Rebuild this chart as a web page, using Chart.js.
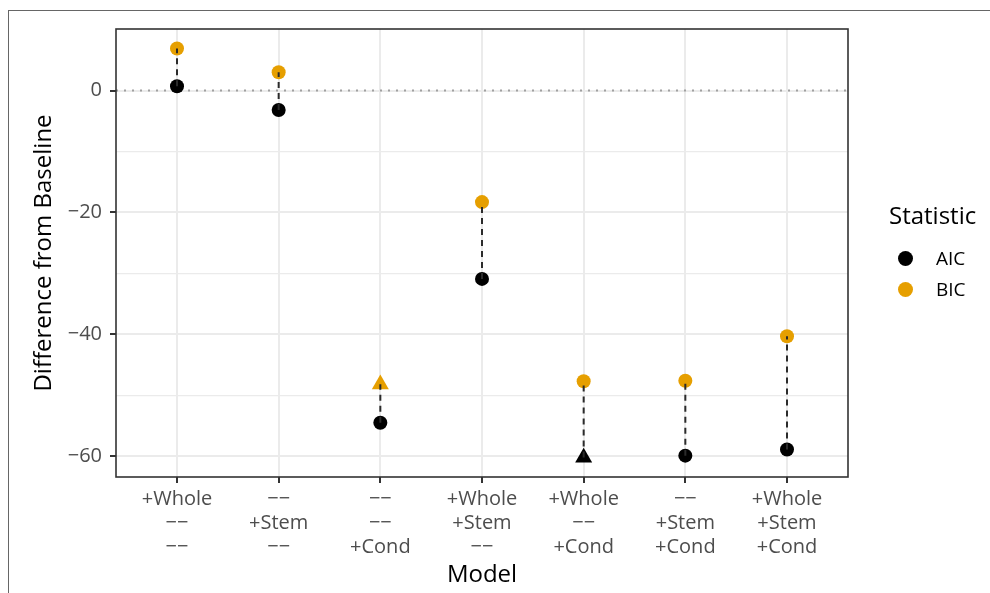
<!DOCTYPE html>
<html>
<head>
<meta charset="utf-8">
<script src="https://cdn.jsdelivr.net/npm/chart.js@4"></script>
<style>
  body { margin: 0; background: #fff; font-family: "Open Sans", sans-serif; }
  #wrap { position: relative; width: 990px; height: 593px; overflow: hidden; }
  #frame { position: absolute; left: 8px; top: 10px; width: 990px; height: 600px;
           border-top: 1.5px solid #666; border-left: 1.5px solid #666; pointer-events: none; }
  .legend-title { position: absolute; left: 889px; top: 201px; font-size: 24px; line-height: 28px; color: #000; }
  .legend-row { position: absolute; left: 898px; height: 20px; display: flex; align-items: center;
                font-size: 19px; line-height: 20px; color: #000; }
  .legend-row span.dot { display: inline-block; width: 15px; height: 15px; border-radius: 50%; margin-right: 23px; }
</style>
</head>
<body>
<div id="wrap">
  <div id="frame"></div>
  <canvas id="chart" width="990" height="593"></canvas>
  <div class="legend-title">Statistic</div>
  <div class="legend-row" style="top:248px"><span class="dot" style="background:#000"></span>AIC</div>
  <div class="legend-row" style="top:279px"><span class="dot" style="background:#E69F00"></span>BIC</div>
</div>
<script>
// model labels, one line per term
const models = [
  ['+Whole', '−−', '−−'],
  ['−−', '+Stem', '−−'],
  ['−−', '−−', '+Cond'],
  ['+Whole', '+Stem', '−−'],
  ['+Whole', '−−', '+Cond'],
  ['−−', '+Stem', '+Cond'],
  ['+Whole', '+Stem', '+Cond']
];

// difference from baseline
const aic = [0.7, -3.2, -54.5, -30.9, -60.2, -59.9, -58.9];
const bic = [6.9, 3.0, -48.2, -18.3, -47.7, -47.6, -40.3];

// marker shape per point
const aicShape = ['circle', 'circle', 'circle', 'circle', 'triangle', 'circle', 'circle'];
const bicShape = ['circle', 'circle', 'triangle', 'circle', 'circle', 'circle', 'circle'];

const yTicks = [-60, -50, -40, -30, -20, -10, 0];
const yLabelled = [-60, -40, -20, 0];

const FONT = '"Open Sans", sans-serif';
const radiusFor = s => (s === 'triangle' ? 9.8 : 7);
const fmt = v => (v < 0 ? '−' + Math.abs(v) : String(v));

// dashed segment from AIC to BIC for each model
const segments = models.map((_, i) => ({
  type: 'line',
  data: [{ x: i, y: aic[i] }, { x: i, y: bic[i] }],
  borderColor: '#2b2b2b',
  borderWidth: 2,
  borderDash: [6, 5],
  pointRadius: 0,
  order: 0
}));

const panel = {
  id: 'panel',
  beforeDatasetsDraw(chart) {
    const { ctx, chartArea: a, scales: { y } } = chart;
    const y0 = y.getPixelForValue(0);
    ctx.save();
    ctx.strokeStyle = '#A0A0A0';
    ctx.lineWidth = 2;
    ctx.setLineDash([2, 6]);
    ctx.beginPath();
    ctx.moveTo(a.left, y0);
    ctx.lineTo(a.right, y0);
    ctx.stroke();
    ctx.restore();
  },
  afterDraw(chart) {
    const { ctx, chartArea: a } = chart;
    ctx.save();
    ctx.strokeStyle = '#333';
    ctx.lineWidth = 1.6;
    ctx.strokeRect(a.left, a.top, a.right - a.left, a.bottom - a.top);
    ctx.restore();
  }
};

new Chart(document.getElementById('chart'), {
  type: 'scatter',
  data: {
    datasets: [
      ...segments,
      {
        label: 'AIC',
        data: aic.map((v, i) => ({ x: i, y: v })),
        backgroundColor: '#000',
        pointStyle: aicShape,
        pointRadius: aicShape.map(radiusFor),
        pointHoverRadius: aicShape.map(radiusFor),
        pointBorderWidth: 0,
        order: 1
      },
      {
        label: 'BIC',
        data: bic.map((v, i) => ({ x: i, y: v })),
        backgroundColor: '#E69F00',
        pointStyle: bicShape,
        pointRadius: bicShape.map(radiusFor),
        pointHoverRadius: bicShape.map(radiusFor),
        pointBorderWidth: 0,
        order: 2
      }
    ]
  },
  options: {
    responsive: false,
    animation: false,
    layout: { padding: { top: 29, right: 142, left: 0, bottom: 0 } },
    plugins: { legend: { display: false }, tooltip: { enabled: false } },
    scales: {
      x: {
        type: 'linear',
        min: -0.6,
        max: 6.6,
        afterBuildTicks: s => { s.ticks = models.map((_, i) => ({ value: i })); },
        afterFit: s => { s.height = 116; },
        border: { display: false },
        grid: { color: '#EBEBEB', lineWidth: 2, tickColor: '#333', tickWidth: 2, tickLength: 6 },
        ticks: {
          callback: v => models[v],
          autoSkip: false,
          maxRotation: 0,
          padding: 4,
          color: '#4D4D4D',
          font: { family: FONT, size: 20, lineHeight: 24 / 20 }
        },
        title: {
          display: true,
          text: 'Model',
          color: '#000',
          font: { family: FONT, size: 24 },
          padding: { top: 0, bottom: 3 }
        }
      },
      y: {
        min: -63.4,
        max: 10.1,
        afterBuildTicks: s => { s.ticks = yTicks.map(v => ({ value: v })); },
        afterFit: s => { s.width = 116; },
        border: { display: false },
        grid: {
          color: '#EBEBEB',
          lineWidth: c => (yLabelled.includes(c.tick.value) ? 2 : 1.2),
          tickColor: c => (yLabelled.includes(c.tick.value) ? '#333' : 'rgba(0,0,0,0)'),
          tickWidth: 2,
          tickLength: 6
        },
        ticks: {
          callback: v => (yLabelled.includes(v) ? fmt(v) : ''),
          padding: 8,
          color: '#4D4D4D',
          font: { family: FONT, size: 20 }
        },
        title: {
          display: true,
          text: 'Difference from Baseline',
          color: '#000',
          font: { family: FONT, size: 24 },
          padding: { top: 30, bottom: 0 }
        }
      }
    }
  },
  plugins: [panel]
});
</script>
</body>
</html>
